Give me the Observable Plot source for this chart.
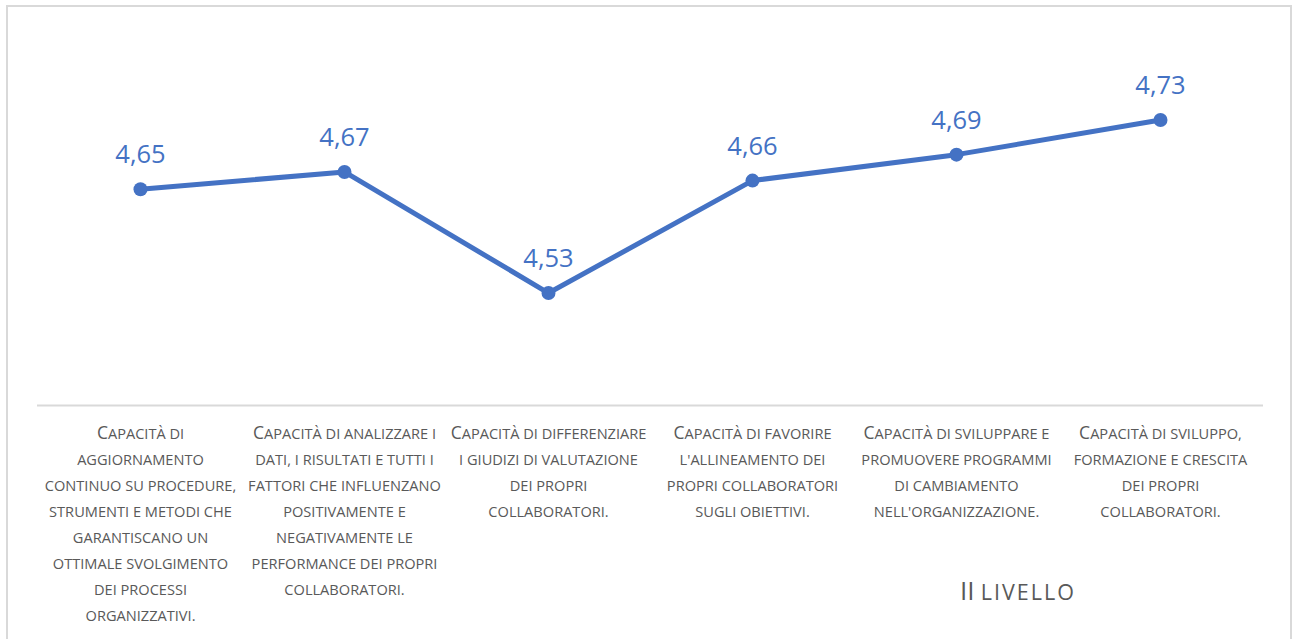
<!DOCTYPE html>
<html>
<head>
<meta charset="utf-8">
<script src="https://cdn.jsdelivr.net/npm/d3@7"></script>
<script src="https://cdn.jsdelivr.net/npm/@observablehq/plot@0.6"></script>
<style>
  html, body { margin: 0; padding: 0; background: #fff; overflow: hidden; }
  #wrap { position: relative; width: 1293px; height: 639px; }
  #border { position: absolute; left: 6px; top: 5px; width: 1286px; height: 700px; border: 2px solid #d9d9d9; box-sizing: border-box; }
  #chart { position: absolute; left: 0; top: 0; }
  #title { position: absolute; left: 918px; top: 578px; width: 200px; text-align: center;
           font-family: "Open Sans", sans-serif; line-height: 24px; color: #595959; white-space: nowrap; }
  #title .big { font-size: 26px; }
  #title .sc { font-size: 21.5px; text-transform: uppercase; letter-spacing: 2px; margin-left: 2px; }
</style>
</head>
<body>
<div id="wrap">
  <div id="border"></div>
  <div id="chart"></div>
  <div id="title"><span class="big">II</span> <span class="sc">livello</span></div>
</div>
<script>
const categories = [
  "Capacità di\naggiornamento\ncontinuo su procedure,\nstrumenti e metodi che\ngarantiscano un\nottimale svolgimento\ndei processi\norganizzativi.",
  "Capacità di analizzare i\ndati, i risultati e tutti i\nfattori che influenzano\npositivamente e\nnegativamente le\nperformance dei propri\ncollaboratori.",
  "Capacità di differenziare\ni giudizi di valutazione\ndei propri\ncollaboratori.",
  "Capacità di favorire\nl'allineamento dei\npropri collaboratori\nsugli obiettivi.",
  "Capacità di sviluppare e\npromuovere programmi\ndi cambiamento\nnell'organizzazione.",
  "Capacità di sviluppo,\nformazione e crescita\ndei propri\ncollaboratori."
];
const values = [4.65, 4.67, 4.53, 4.66, 4.69, 4.73];
const yDomain = [4.4, 4.8];

const data = categories.map((c, i) => ({cat: c, value: values[i]}));
const blue = "#4472C4";
const fmt = v => v.toFixed(2).replace(".", ",");

const smallSize = 14.6;
const capSize = 17.5;

const chart = Plot.plot({
  width: 1293,
  height: 639,
  marginLeft: 37,
  marginRight: 30,
  marginTop: 59,
  marginBottom: 234,
  style: {background: "transparent", fontFamily: "'Open Sans', sans-serif"},
  x: {type: "point", domain: categories, padding: 0.5, axis: null},
  y: {domain: yDomain, axis: null},
  marks: [
    Plot.ruleY([yDomain[0]], {stroke: "#d9d9d9", strokeWidth: 2}),
    Plot.line(data, {x: "cat", y: "value", stroke: blue, strokeWidth: 5, curve: "linear"}),
    Plot.dot(data, {x: "cat", y: "value", r: 7, fill: blue, stroke: "none"}),
    Plot.text(data, {x: "cat", y: "value", text: d => fmt(d.value), fill: blue,
      fontSize: 25.5, lineAnchor: "bottom", dy: -26}),
    Plot.text(categories, {x: d => d, frameAnchor: "bottom", lineAnchor: "top",
      text: d => d, fill: "#595959", fontSize: smallSize,
      lineHeight: 25.9 / smallSize, dy: 15.5})
  ]
});

// Render category labels in small caps: original capitals larger, the rest as reduced capitals.
const textGroups = chart.querySelectorAll('g[aria-label="text"]');
const labelGroup = textGroups[textGroups.length - 1];
const isUpper = ch => ch !== ch.toLowerCase() && ch === ch.toUpperCase();
labelGroup.querySelectorAll("text").forEach(t => {
  const lines = t.querySelectorAll("tspan");
  const targets = lines.length ? Array.from(lines) : [t];
  targets.forEach(line => {
    const s = line.textContent;
    line.textContent = "";
    let seg = "", segUp = null;
    const flush = () => {
      if (!seg) return;
      const sp = document.createElementNS("http://www.w3.org/2000/svg", "tspan");
      sp.setAttribute("font-size", segUp ? capSize : smallSize);
      sp.textContent = seg.toUpperCase();
      line.appendChild(sp);
      seg = "";
    };
    for (const ch of s) {
      const up = isUpper(ch);
      if (segUp !== null && up !== segUp) flush();
      segUp = up;
      seg += ch;
    }
    flush();
  });
});

document.getElementById("chart").appendChild(chart);
</script>
</body>
</html>
